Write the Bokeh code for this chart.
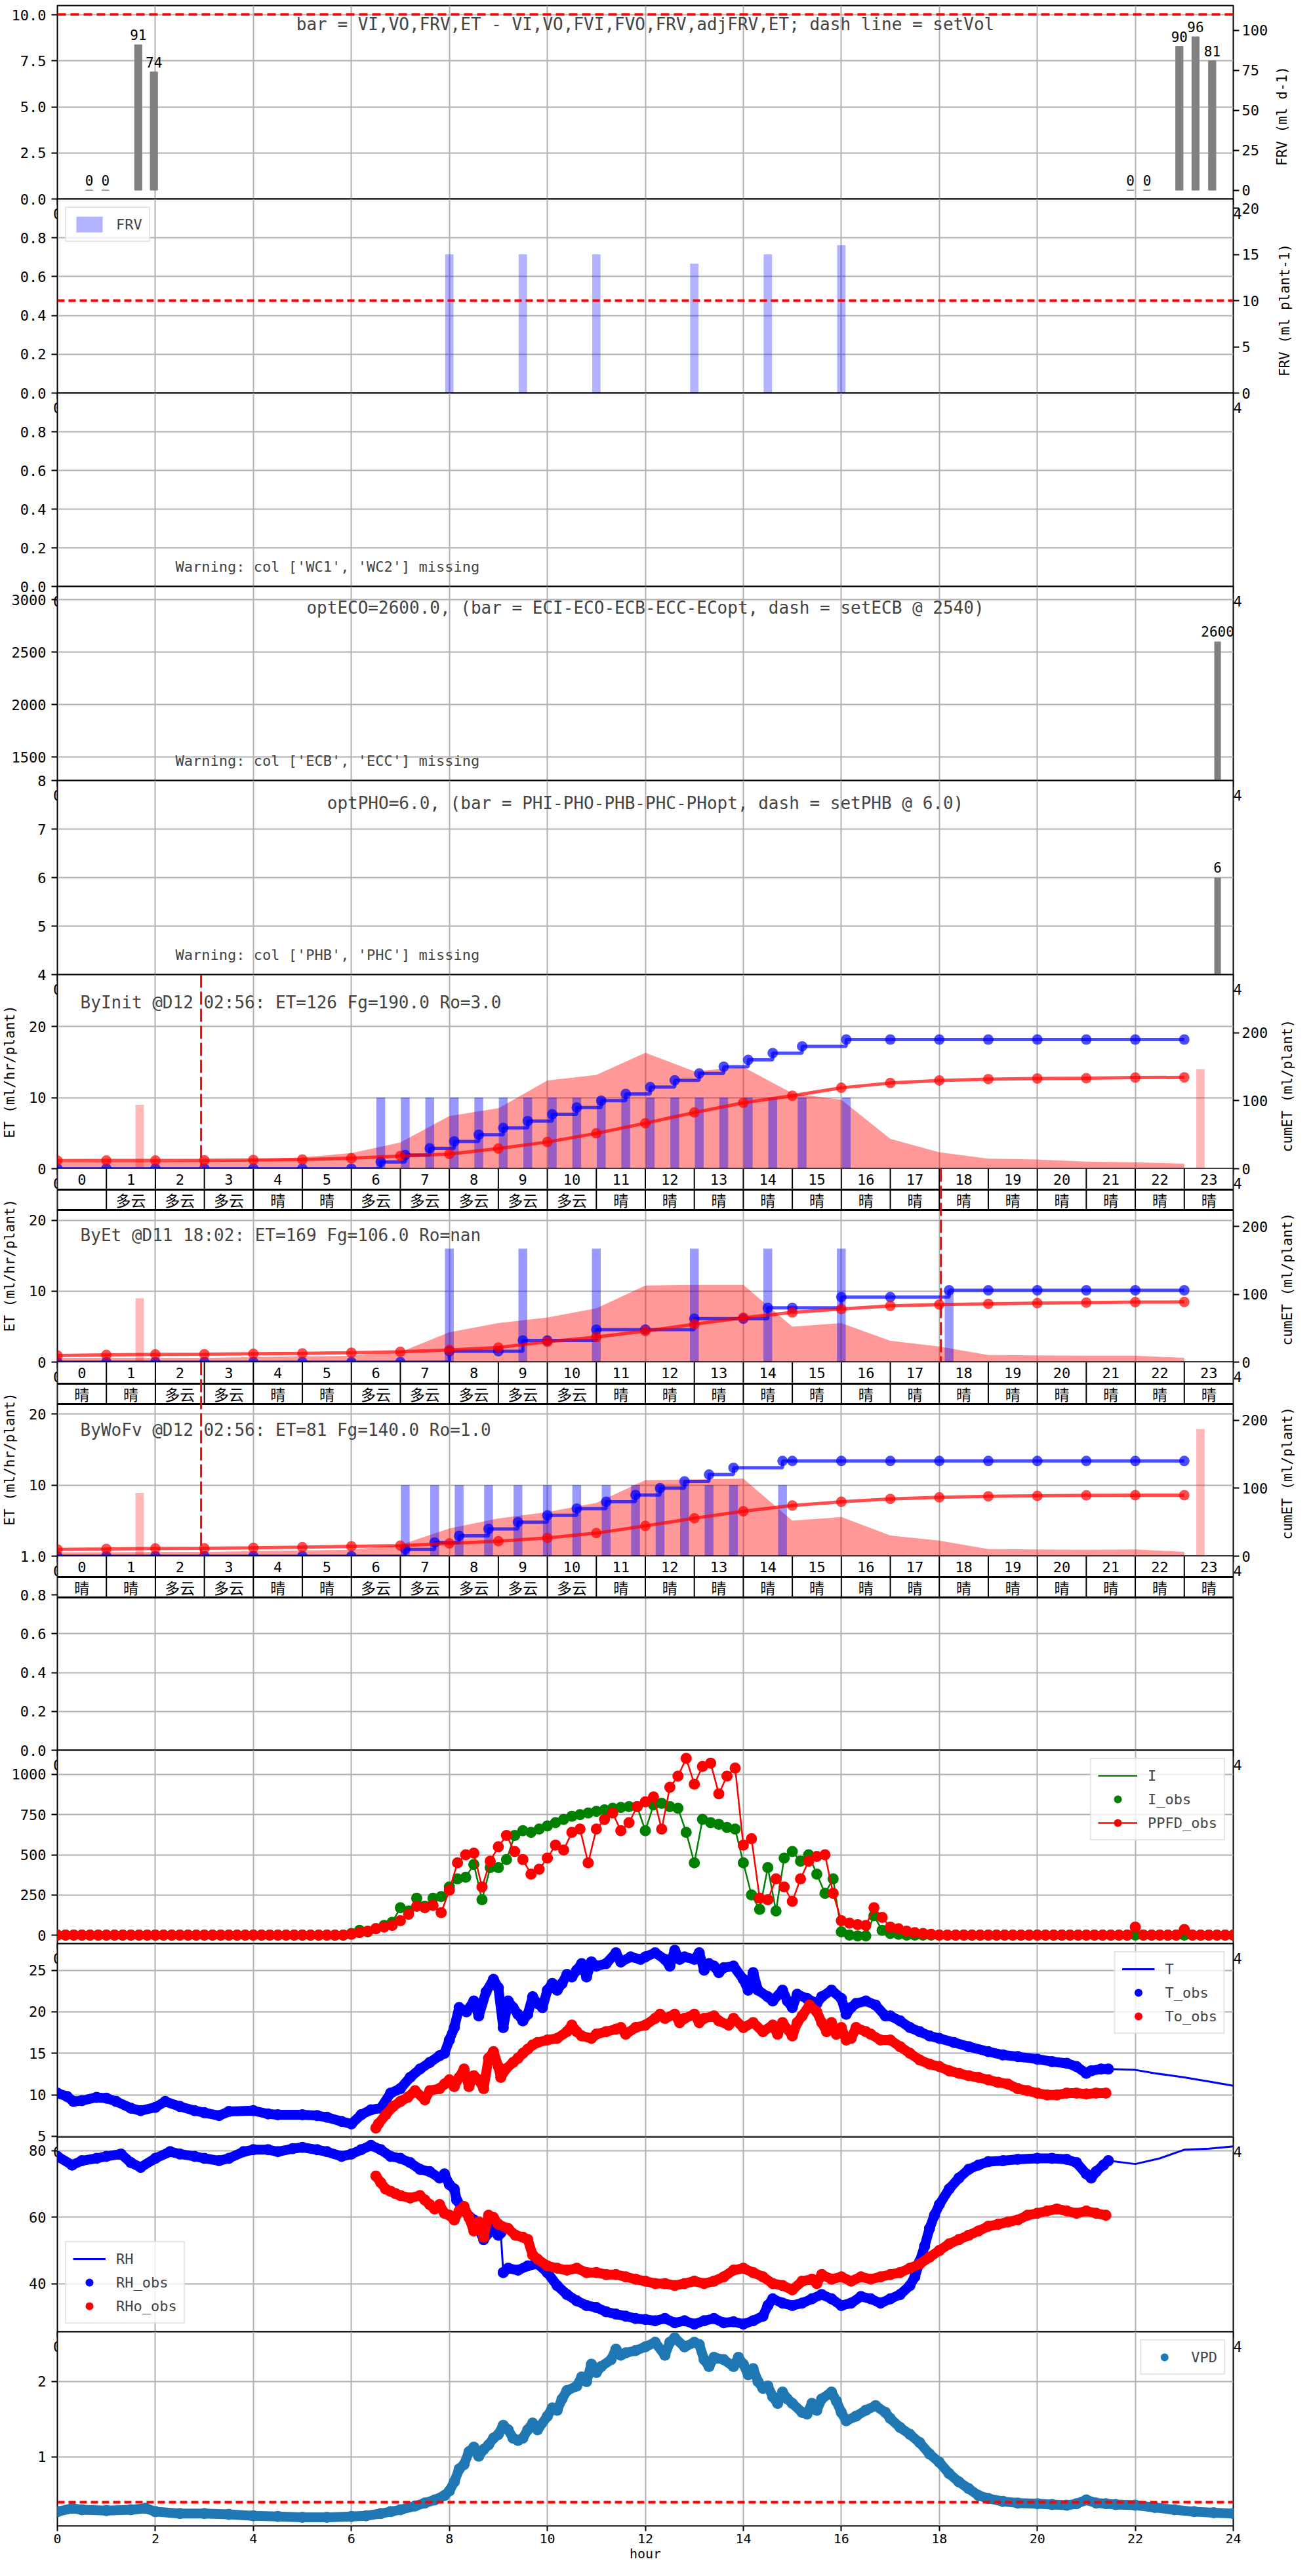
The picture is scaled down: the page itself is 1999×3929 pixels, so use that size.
import math
from bokeh.plotting import figure
from bokeh.models import (Range1d, LinearAxis, FixedTicker, PrintfTickFormatter, Label, Span,
                          Legend, LegendItem)
from bokeh.layouts import column
from bokeh.core.properties import value
from bokeh.embed import file_html
from bokeh.resources import INLINE

MONO = "DejaVu Sans Mono"
CJK = "Noto Sans CJK SC"

# ======================= DATA =======================
HOUR_TICKS = [0, 2, 4, 6, 8, 10, 12, 14, 16, 18, 20, 22, 24]
TABLE_HOURS = list(range(24))

FRVD_X = [0.65, 0.98, 1.65, 1.97, 21.9, 22.24, 22.9, 23.23, 23.57]
FRVD_V = [0, 0, 91, 74, 0, 0, 90, 96, 81]
SET_VOL = 110
TITLE1 = "bar = VI,VO,FRV,ET - VI,VO,FVI,FVO,FRV,adjFRV,ET; dash line = setVol"

FRV_X = [8.0, 9.5, 11.0, 13.0, 14.5, 16.0]
FRV_V = [15, 15, 15, 14, 15, 16]
SET_FRV = 10

WARN3 = "Warning: col ['WC1', 'WC2'] missing"
ECO_X = [23.68]
ECO_V = [2600]
TITLE4 = "optECO=2600.0, (bar = ECI-ECO-ECB-ECC-ECopt, dash = setECB @ 2540)"
WARN4 = "Warning: col ['ECB', 'ECC'] missing"
PHO_X = [23.68]
PHO_V = [6]
TITLE5 = "optPHO=6.0, (bar = PHI-PHO-PHB-PHC-PHopt, dash = setPHB @ 6.0)"
WARN5 = "Warning: col ['PHB', 'PHC'] missing"

ET_HOURS = list(range(24))
AREA_INIT = [0.9, 1.0, 1.0, 1.1, 1.3, 1.6, 2.2, 3.7, 7.4, 8.5, 12.4, 13.2, 16.3, 13.7, 14.3, 10.6, 9.7, 4.2, 2.3, 1.4, 1.3, 1.0, 0.9, 0.7]
AREA_ET = [0.6, 0.6, 0.6, 0.6, 0.7, 0.8, 0.9, 1.4, 4.2, 5.5, 6.3, 7.6, 10.8, 10.9, 10.9, 5.0, 5.5, 3.0, 2.2, 1.0, 0.95, 0.9, 0.9, 0.6]
AREA_WOFV = [0.55, 0.55, 0.6, 0.6, 0.7, 0.8, 0.9, 1.6, 3.9, 5.3, 6.2, 7.5, 10.7, 10.8, 10.9, 5.0, 5.5, 2.9, 2.2, 1.0, 0.95, 0.9, 0.95, 0.6]

CUMET_INIT = [11.9, 12.0, 12.0, 12.3, 12.9, 13.5, 15.4, 18.6, 21.5, 29.6, 39.2, 52.0, 66.9, 82.6, 97.0, 107.3, 119.0, 126.0, 129.8, 131.7, 132.6, 133.0, 134.0, 134.3]
CUMET_ET = [9.7, 10.6, 11.3, 11.6, 12.3, 12.9, 13.9, 15.2, 17.8, 21.6, 30.0, 37.0, 45.8, 55.8, 65.5, 73.3, 78.4, 83.0, 84.9, 86.0, 87.0, 87.8, 88.5, 88.7]
CUMET_WOFV = [10.0, 10.6, 11.3, 11.6, 12.3, 13.2, 14.5, 15.5, 18.7, 22.0, 26.8, 33.9, 44.5, 55.8, 66.1, 74.5, 80.0, 84.2, 86.5, 88.0, 88.7, 89.4, 89.7, 89.7]

CUMFG_INIT = [(0, 0), (1, 0), (2, 0), (3, 0), (4, 0), (5, 0), (6, 0), (6.6, 10), (7.1, 20), (7.6, 30), (8.1, 40),
              (8.6, 50), (9.1, 60), (9.6, 70), (10.1, 80), (10.6, 90), (11.1, 100), (11.6, 110), (12.1, 120),
              (12.6, 130), (13.1, 140), (13.6, 150), (14.1, 160), (14.6, 170), (15.2, 180), (16.1, 190),
              (17, 190), (18, 190), (19, 190), (20, 190), (21, 190), (22, 190), (23, 190)]
CUMFG_ET = [(0, 0), (1, 0), (2, 0), (3, 0), (4, 0), (5, 0), (6, 0), (7, 0), (8, 16), (9, 16), (9.5, 32), (10, 32),
            (11, 48), (12, 48), (13, 64), (14, 64), (14.5, 80), (15, 80), (16, 96), (17, 96), (18.2, 106),
            (19, 106), (20, 106), (21, 106), (22, 106), (23, 106)]
CUMFG_WOFV = [(0, 0), (1, 0), (2, 0), (3, 0), (4, 0), (5, 0), (6, 0), (7.1, 10), (7.7, 20), (8.2, 30), (8.8, 40),
              (9.4, 50), (10.0, 60), (10.6, 70), (11.2, 80), (11.8, 90), (12.3, 100), (12.8, 110), (13.3, 120),
              (13.8, 130), (14.8, 140), (15, 140), (16, 140), (17, 140), (18, 140), (19, 140), (20, 140),
              (21, 140), (22, 140), (23, 140)]

IRR_INIT_X = [6.6, 7.1, 7.6, 8.1, 8.6, 9.1, 9.6, 10.1, 10.6, 11.1, 11.6, 12.1, 12.6, 13.1, 13.6, 14.1, 14.6, 15.2, 16.1]
IRR_INIT_V = [10, 10, 10, 10, 10, 10, 10, 10, 10, 10, 10, 10, 10, 10, 10, 10, 10, 10, 10]
IRR_ET_X = [8.0, 9.5, 11.0, 13.0, 14.5, 16.0, 18.2]
IRR_ET_V = [16, 16, 16, 16, 16, 16, 10]
IRR_WOFV_X = [7.1, 7.7, 8.2, 8.8, 9.4, 10.0, 10.6, 11.2, 11.8, 12.3, 12.8, 13.3, 13.8, 14.8]
IRR_WOFV_V = [10, 10, 10, 10, 10, 10, 10, 10, 10, 10, 10, 10, 10, 10]

PINK_INIT_X = [1.68, 23.33]
PINK_INIT_V = [9.0, 14.0]
PINK_ET_X = [1.68]
PINK_ET_V = [9.0]
PINK_WOFV_X = [1.68, 23.33]
PINK_WOFV_V = [8.9, 17.9]

VLINE_INIT, VLINE_ET, VLINE_WOFV = 2.933, 18.033, 2.933
LABEL_INIT = "ByInit @D12 02:56: ET=126 Fg=190.0 Ro=3.0"
LABEL_ET = "ByEt @D11 18:02: ET=169 Fg=106.0 Ro=nan"
LABEL_WOFV = "ByWoFv @D12 02:56: ET=81 Fg=140.0 Ro=1.0"

WEATHER_INIT = ["", "多云", "多云", "多云", "晴", "晴", "多云", "多云", "多云", "多云", "多云", "晴",
                "晴", "晴", "晴", "晴", "晴", "晴", "晴", "晴", "晴", "晴", "晴", "晴"]
WEATHER_ET = ["晴", "晴", "多云", "多云", "晴", "晴", "多云", "多云", "多云", "多云", "多云", "晴",
              "晴", "晴", "晴", "晴", "晴", "晴", "晴", "晴", "晴", "晴", "晴", "晴"]
WEATHER_WOFV = ["晴", "晴", "多云", "多云", "晴", "晴", "多云", "多云", "多云", "多云", "多云", "晴",
                "晴", "晴", "晴", "晴", "晴", "晴", "晴", "晴", "晴", "晴", "晴", "晴"]

T10 = [i / 6 for i in range(145)]
PPFD_OBS = [0, 0, 0, 0, 0, 0,  0, 0, 0, 0, 0, 0,  0, 0, 0, 0, 0, 0,  0, 0, 0, 0, 0, 0,
            0, 0, 0, 0, 0, 0,  0, 0, 0, 0, 0, 0,
            5, 15, 25, 40, 50, 60,
            90, 130, 180, 170, 185, 140,
            280, 450, 500, 510, 300, 460,
            550, 620, 520, 470, 380, 410,
            480, 560, 530, 640, 660, 450,
            660, 720, 760, 650, 700, 800,
            830, 860, 660, 920, 990, 1100,
            940, 1050, 1070, 880, 990, 1040,
            560, 600, 230, 220, 350, 300,
            210, 350, 460, 490, 500, 260,
            90, 75, 65, 60, 170, 110,
            50, 40, 25, 15, 10, 5,
            0, 0, 0, 0, 0, 0,  0, 0, 0, 0, 0, 0,  0, 0, 0, 0, 0, 0,  0, 0, 0, 0, 0, 0,
            50, 0, 0, 0, 0, 0,  35, 0, 0, 0, 0, 0,
            0]
I_OBS = [0, 0, 0, 0, 0, 0,  0, 0, 0, 0, 0, 0,  0, 0, 0, 0, 0, 0,  0, 0, 0, 0, 0, 0,
         0, 0, 0, 0, 0, 0,  0, 0, 0, 0, 0, 0,
         10, 30, 20, 40, 60, 80,
         170, 150, 230, 180, 230, 240,
         300, 350, 360, 440, 220, 420,
         420, 470, 620, 650, 640, 660,
         680, 700, 720, 740, 750, 760,
         770, 780, 790, 795, 800, 800,
         650, 810, 820, 800, 790, 640,
         450, 720, 700, 690, 670, 660,
         450, 250, 160, 420, 150, 480,
         520, 460, 500, 380, 260, 350,
         20, 0, -5, -5, 120, 30,
         10, 5, 0, 0, 0, 0,
         0, 0, 0, 0, 0, 0,  0, 0, 0, 0, 0, 0,  0, 0, 0, 0, 0, 0,  0, 0, 0, 0, 0, 0,
         0, 0, 0, 0, 0, 0,  0, 0, 0, 0, 0, 0,
         0]

T_OBS = [(0, 10.2), (0.2, 9.8), (0.33, 9.2), (0.5, 9.3), (0.8, 9.7), (1.0, 9.6), (1.2, 9.2), (1.5, 8.4), (1.7, 8.1),
         (2.0, 8.5), (2.2, 9.2), (2.5, 8.6), (2.8, 8.1), (3.0, 7.85), (3.3, 7.5), (3.5, 8.0), (4.0, 8.1), (4.3, 7.7),
         (4.5, 7.6), (5.0, 7.6), (5.3, 7.5), (5.5, 7.3), (5.8, 6.8), (6.0, 6.5), (6.2, 7.6), (6.4, 8.2), (6.6, 8.4),
         (6.8, 10.2), (7.0, 10.75), (7.2, 12.1), (7.4, 13.1), (7.6, 13.9), (7.8, 14.7), (7.9, 15.0), (8.0, 16.6),
         (8.1, 18.1), (8.2, 20.5), (8.35, 20.0), (8.5, 21.3), (8.6, 19.5), (8.75, 22.4), (8.9, 23.9), (9.0, 22.9),
         (9.1, 18.1), (9.2, 21.3), (9.3, 20.5), (9.4, 19.7), (9.5, 18.9), (9.6, 19.7), (9.7, 21.8), (9.8, 21.0),
         (9.9, 20.5), (10.0, 22.6), (10.1, 23.4), (10.2, 22.6), (10.3, 23.4), (10.4, 24.5), (10.5, 24.2),
         (10.6, 25.0), (10.7, 25.8), (10.8, 24.2), (10.9, 26.0), (11.0, 25.5), (11.2, 25.8), (11.4, 27.1),
         (11.5, 26.0), (11.7, 26.6), (11.9, 26.3), (12.0, 26.6), (12.2, 27.1), (12.4, 26.3), (12.5, 25.5),
         (12.6, 27.4), (12.7, 26.3), (12.8, 26.6), (13.0, 26.3), (13.1, 27.1), (13.2, 25.0), (13.3, 25.8),
         (13.4, 25.5), (13.5, 24.7), (13.6, 25.3), (13.8, 25.5), (14.0, 23.9), (14.1, 22.6), (14.2, 24.7),
         (14.3, 22.6), (14.5, 21.8), (14.6, 21.3), (14.8, 22.6), (14.9, 21.3), (15.0, 20.5), (15.1, 22.1),
         (15.3, 21.6), (15.5, 21.0), (15.6, 21.8), (15.8, 22.6), (16.0, 21.6), (16.1, 19.7), (16.2, 20.5),
         (16.3, 21.0), (16.5, 21.3), (16.7, 20.8), (16.9, 19.5), (17.0, 19.5), (17.2, 18.9), (17.4, 18.1),
         (17.6, 17.6), (17.8, 17.1), (18.0, 16.8), (18.3, 16.3), (18.6, 15.8), (19.0, 15.2), (19.3, 14.8),
         (19.6, 14.6), (20.0, 14.3), (20.3, 14.0), (20.6, 13.8), (20.8, 13.4), (21.0, 12.6), (21.1, 12.9),
         (21.3, 13.1), (21.45, 13.1)]
T_TAIL = [(22.0, 13.0), (22.4, 12.6), (23.0, 12.1), (23.5, 11.6), (24.0, 11.1)]
TO_OBS = [(6.5, 6.0), (6.55, 6.5), (6.7, 7.6), (6.85, 8.6), (7.0, 9.2), (7.15, 9.7), (7.3, 10.5), (7.5, 9.4),
          (7.6, 10.5), (7.8, 10.75), (7.9, 11.3), (8.0, 11.8), (8.1, 11.0), (8.2, 12.1), (8.3, 13.1), (8.4, 11.0),
          (8.5, 12.3), (8.6, 11.8), (8.7, 10.75), (8.8, 14.4), (8.9, 15.2), (9.0, 13.4), (9.05, 12.1), (9.15, 13.1),
          (9.3, 13.9), (9.4, 14.4), (9.5, 15.0), (9.6, 15.5), (9.7, 16.0), (9.8, 16.3), (10.0, 16.6), (10.2, 16.8),
          (10.4, 17.6), (10.5, 18.4), (10.6, 17.6), (10.7, 17.1), (10.9, 16.8), (11.0, 17.3), (11.2, 17.6),
          (11.4, 17.9), (11.5, 18.1), (11.6, 17.3), (11.8, 18.1), (12.0, 18.4), (12.2, 19.2), (12.3, 19.7),
          (12.4, 19.2), (12.6, 19.7), (12.7, 18.7), (12.8, 19.2), (13.0, 19.7), (13.1, 18.7), (13.2, 19.2),
          (13.4, 19.5), (13.5, 18.9), (13.7, 18.4), (13.8, 19.2), (14.0, 18.1), (14.2, 18.7), (14.4, 17.6),
          (14.6, 18.4), (14.7, 17.3), (14.8, 18.7), (15.0, 17.1), (15.1, 18.7), (15.2, 19.5), (15.35, 20.8),
          (15.5, 20.0), (15.6, 18.7), (15.7, 17.6), (15.8, 18.7), (15.9, 17.3), (16.0, 18.1), (16.1, 16.6),
          (16.2, 16.8), (16.3, 18.1), (16.5, 17.6), (16.6, 17.3), (16.8, 16.6), (17.0, 16.6), (17.2, 15.8),
          (17.4, 15.0), (17.6, 14.2), (17.8, 13.7), (18.0, 13.4), (18.2, 12.9), (18.4, 12.6), (18.6, 12.3),
          (18.8, 12.1), (19.0, 11.8), (19.2, 11.5), (19.4, 11.3), (19.6, 10.75), (19.8, 10.5), (20.0, 10.2),
          (20.2, 10.0), (20.4, 10.0), (20.6, 10.2), (20.8, 10.2), (21.0, 10.1), (21.2, 10.2), (21.4, 10.2)]

RH_OBS = [(0, 78.3), (0.3, 75.7), (0.5, 77.0), (0.8, 77.7), (1.0, 78.3), (1.3, 79.0), (1.5, 76.4), (1.7, 75.0),
          (2.0, 77.7), (2.3, 79.7), (2.5, 79.0), (2.8, 78.3), (3.0, 77.7), (3.3, 77.0), (3.5, 77.7), (3.8, 79.7),
          (4.0, 80.3), (4.3, 80.3), (4.5, 79.7), (4.8, 80.6), (5.0, 81.0), (5.3, 80.3), (5.5, 79.7), (5.8, 78.3),
          (6.0, 79.0), (6.2, 80.3), (6.4, 81.6), (6.6, 80.3), (6.8, 78.3), (7.0, 77.7), (7.2, 76.4), (7.4, 74.4),
          (7.6, 73.7), (7.8, 71.8), (7.9, 73.0), (8.0, 69.8), (8.1, 68.5), (8.15, 65.2), (8.3, 61.9), (8.5, 59.2),
          (8.6, 56.6), (8.7, 53.3), (8.8, 55.3), (8.9, 58.6), (9.0, 54.6), (9.05, 55.3), (9.1, 43.4), (9.2, 44.7),
          (9.4, 44.1), (9.6, 45.4), (9.8, 46.0), (10.0, 43.4), (10.2, 39.5), (10.4, 36.8), (10.6, 34.9),
          (10.8, 33.5), (11.0, 32.9), (11.2, 31.6), (11.4, 30.9), (11.6, 30.3), (11.8, 29.6), (12.0, 29.3),
          (12.2, 28.9), (12.4, 29.6), (12.6, 28.3), (12.8, 28.9), (13.0, 27.9), (13.2, 28.9), (13.4, 29.6),
          (13.6, 28.3), (13.8, 28.6), (14.0, 27.9), (14.2, 28.9), (14.4, 30.3), (14.5, 33.5), (14.6, 35.5),
          (14.8, 34.2), (15.0, 33.5), (15.2, 34.2), (15.4, 35.5), (15.6, 36.8), (15.8, 35.5), (16.0, 33.5),
          (16.2, 34.2), (16.4, 36.2), (16.6, 35.5), (16.8, 34.2), (17.0, 35.5), (17.2, 36.8), (17.4, 39.5),
          (17.5, 42.1), (17.6, 46.7), (17.7, 51.3), (17.8, 56.6), (17.9, 60.6), (18.0, 63.8), (18.2, 68.5),
          (18.4, 71.8), (18.6, 74.4), (18.8, 75.7), (19.0, 76.7), (19.3, 77.0), (19.6, 77.4), (20.0, 77.7),
          (20.3, 77.7), (20.6, 77.4), (20.8, 76.4), (21.0, 73.0), (21.1, 71.8), (21.2, 73.7), (21.35, 75.7),
          (21.45, 77.0)]
RH_TAIL = [(22.0, 76.0), (22.5, 77.7), (23.0, 80.3), (23.5, 80.6), (24.0, 81.3)]
RHO_OBS = [(6.5, 72.4), (6.6, 70.4), (6.7, 68.5), (6.8, 67.8), (6.9, 67.1), (7.0, 66.5), (7.2, 65.8), (7.4, 66.5),
           (7.5, 65.2), (7.6, 63.8), (7.7, 62.5), (7.8, 63.8), (7.9, 61.2), (8.0, 60.6), (8.1, 59.2), (8.2, 61.9),
           (8.3, 63.2), (8.4, 59.9), (8.5, 55.9), (8.6, 58.6), (8.7, 54.0), (8.8, 60.6), (8.9, 59.9), (9.0, 57.9),
           (9.2, 56.6), (9.35, 54.6), (9.5, 54.0), (9.6, 53.3), (9.7, 48.7), (9.8, 47.4), (10.0, 45.4),
           (10.2, 44.7), (10.4, 44.1), (10.6, 44.7), (10.8, 43.4), (11.0, 43.4), (11.2, 42.8), (11.4, 42.8),
           (11.6, 42.1), (11.8, 41.4), (12.0, 40.8), (12.2, 40.1), (12.4, 40.1), (12.6, 39.5), (12.8, 40.1),
           (13.0, 40.8), (13.2, 40.1), (13.4, 40.8), (13.6, 42.1), (13.8, 44.1), (14.0, 44.7), (14.2, 43.4),
           (14.4, 42.1), (14.6, 40.1), (14.8, 39.5), (15.0, 38.2), (15.2, 40.8), (15.4, 41.4), (15.5, 40.1),
           (15.6, 42.8), (15.8, 41.4), (16.0, 42.1), (16.2, 40.8), (16.4, 42.1), (16.6, 41.4), (16.8, 42.1),
           (17.0, 42.8), (17.2, 43.4), (17.4, 44.7), (17.6, 46.0), (17.8, 48.0), (18.0, 50.0), (18.2, 52.0),
           (18.4, 53.3), (18.6, 54.6), (18.8, 55.9), (19.0, 57.3), (19.2, 57.9), (19.4, 58.6), (19.6, 59.2),
           (19.8, 60.6), (20.0, 61.2), (20.2, 61.9), (20.4, 62.5), (20.6, 61.9), (20.8, 61.2), (21.0, 61.9),
           (21.2, 61.2), (21.4, 60.6)]

VPD = [(0, 0.275), (0.3, 0.32), (0.5, 0.30), (1.0, 0.29), (1.5, 0.30), (1.8, 0.32), (2.0, 0.275), (2.5, 0.25),
       (3.0, 0.25), (3.5, 0.24), (4.0, 0.22), (4.5, 0.21), (5.0, 0.20), (5.5, 0.20), (6.0, 0.21), (6.3, 0.22),
       (6.6, 0.25), (6.8, 0.275), (7.0, 0.30), (7.3, 0.35), (7.5, 0.39), (7.7, 0.43), (7.9, 0.49), (8.0, 0.55),
       (8.1, 0.67), (8.2, 0.84), (8.3, 0.90), (8.4, 1.07), (8.5, 1.13), (8.6, 1.01), (8.7, 1.10), (8.8, 1.16),
       (8.9, 1.25), (9.0, 1.30), (9.1, 1.42), (9.2, 1.36), (9.3, 1.25), (9.4, 1.22), (9.5, 1.25), (9.6, 1.36),
       (9.7, 1.45), (9.8, 1.36), (10.0, 1.54), (10.1, 1.65), (10.2, 1.62), (10.3, 1.77), (10.4, 1.88),
       (10.6, 1.94), (10.7, 2.06), (10.8, 2.00), (10.9, 2.23), (11.0, 2.12), (11.1, 2.20), (11.3, 2.29),
       (11.4, 2.43), (11.5, 2.35), (11.6, 2.38), (11.8, 2.41), (12.0, 2.46), (12.2, 2.52), (12.4, 2.35),
       (12.5, 2.52), (12.6, 2.58), (12.8, 2.46), (13.0, 2.52), (13.1, 2.49), (13.2, 2.29), (13.3, 2.20),
       (13.4, 2.32), (13.6, 2.29), (13.8, 2.20), (13.9, 2.32), (14.0, 2.23), (14.1, 2.09), (14.2, 2.17),
       (14.3, 2.00), (14.4, 1.91), (14.5, 1.94), (14.6, 1.80), (14.7, 1.71), (14.8, 1.86), (14.9, 1.77),
       (15.0, 1.71), (15.2, 1.59), (15.3, 1.57), (15.4, 1.71), (15.5, 1.62), (15.6, 1.77), (15.8, 1.86),
       (15.9, 1.74), (16.0, 1.59), (16.1, 1.48), (16.3, 1.54), (16.5, 1.62), (16.7, 1.68), (16.9, 1.59),
       (17.0, 1.51), (17.2, 1.39), (17.4, 1.30), (17.6, 1.19), (17.8, 1.04), (18.0, 0.93), (18.2, 0.78),
       (18.4, 0.67), (18.6, 0.58), (18.8, 0.49), (19.0, 0.45), (19.3, 0.41), (19.6, 0.39), (20.0, 0.38),
       (20.3, 0.37), (20.6, 0.36), (20.8, 0.38), (21.0, 0.43), (21.2, 0.39), (21.4, 0.38), (21.6, 0.37),
       (22.0, 0.36), (22.4, 0.33), (22.8, 0.30), (23.2, 0.275), (23.6, 0.26), (24.0, 0.25)]
VPD_SET = 0.4

# ======================= LAYOUT / STYLE =======================
FW = 1793
LB, RB = 85, 105
BT, BB = 12, 45
FH = [295, 296, 295, 296, 296, 296, 295, 296, 296, 295, 295, 297, 296]
ET_YR = (0, 27.3)
CUM_YR = (0, 285.5)
GRID = "#b0b0b0"
LABEL_PX = 21
CHAR_W = LABEL_PX * 0.602


def style_axis(ax, size="22px"):
    ax.major_label_text_font = MONO
    ax.major_label_text_font_size = size
    ax.major_label_text_color = "black"
    ax.axis_label_text_font = MONO
    ax.axis_label_text_font_size = "%dpx" % LABEL_PX
    ax.axis_label_text_font_style = "normal"
    ax.axis_label_text_color = "black"
    ax.axis_line_color = None
    ax.major_tick_out = 9
    ax.major_tick_in = 0
    ax.major_tick_line_width = 2
    ax.minor_tick_out = 0
    ax.minor_tick_in = 0
    ax.major_label_standoff = 8


def y_from_top(yr, fh, px):
    return yr[1] - px * (yr[1] - yr[0]) / fh


def y_from_bottom(yr, fh, px):
    return yr[0] + px * (yr[1] - yr[0]) / fh


def base(i, yr, yticks, fmt=None, grid_ticks=None):
    first, last = i == 0, i == len(FH) - 1
    p = figure(frame_width=FW, frame_height=FH[i], x_range=Range1d(0, 24), y_range=Range1d(*yr),
               output_backend="svg", toolbar_location=None,
               min_border_left=LB, min_border_right=RB,
               min_border_top=8 if first else BT, min_border_bottom=61 if last else BB,
               border_fill_color=None, background_fill_color="white",
               outline_line_color="black", outline_line_width=2)
    p.margin = (0, 0, 0, 0) if first else (-(BB + BT), 0, 0, 0)
    p.xaxis.ticker = FixedTicker(ticks=HOUR_TICKS)
    p.yaxis.ticker = FixedTicker(ticks=yticks)
    if fmt:
        p.yaxis.formatter = PrintfTickFormatter(format=fmt)
    for ax in list(p.xaxis) + list(p.yaxis):
        style_axis(ax)
    for ax in p.xaxis:
        ax.major_label_standoff = 5
    p.xgrid.ticker = FixedTicker(ticks=HOUR_TICKS)
    p.ygrid.ticker = FixedTicker(ticks=grid_ticks if grid_ticks else yticks)
    p.grid.grid_line_color = GRID
    p.grid.grid_line_width = 2
    return p


def add_right(p, i, yr, ticks, label, standoff):
    """Right-hand axis whose title reads bottom-to-top (as in the reference)."""
    p.extra_y_ranges = {"r": Range1d(*yr)}
    ax = LinearAxis(y_range_name="r", ticker=FixedTicker(ticks=ticks))
    style_axis(ax)
    ax.major_label_standoff = 4
    # the rotated title starts at the bottom of the axis: pad it so it ends up centred
    pad = max(0, int(round((FH[i] / 2 - len(label) * CHAR_W / 2 - 20) / CHAR_W)))
    ax.axis_label = "\u00a0" * pad + label
    ax.axis_label_standoff = standoff
    try:
        ax.axis_label_orientation = math.pi / 2
        ax.axis_label_align = "start"
    except Exception:
        ax.axis_label = label
    p.add_layout(ax, "right")
    return ax


def mk_legend(items, loc, gw=50):
    return Legend(items=[LegendItem(label=l, renderers=r) for l, r in items], location=loc,
                  label_text_font=MONO, label_text_font_size="22px",
                  border_line_color="#cccccc", border_line_width=2,
                  background_fill_alpha=0.8, glyph_width=gw, glyph_height=30, label_standoff=16,
                  padding=10, spacing=6, margin=12)


def title(p, yr, fh, text, px):
    p.add_layout(Label(x=12, y=y_from_top(yr, fh, px), text=text, text_align="center",
                       text_baseline="top", text_font=MONO, text_font_size="26px"))


def warning(p, yr, fh, text):
    p.add_layout(Label(x=2.41, y=y_from_bottom(yr, fh, 30), text=text, text_align="left",
                       text_baseline="alphabetic", text_font=MONO, text_font_size="22px"))


def add_table(p, yr, fh, weather, r1=32, r2=31):
    ya = yr[1]
    yb = y_from_top(yr, fh, r1)
    yc = y_from_top(yr, fh, r1 + r2)
    p.quad(left=[0], right=[24], bottom=[yc], top=[ya], fill_color="white", line_color=None)
    p.multi_line(xs=[[h, h] for h in range(25)], ys=[[yc, ya] for _ in range(25)],
                 line_color="black", line_width=2)
    p.multi_line(xs=[[0, 24], [0, 24]], ys=[[yb, yb], [yc, yc]], line_color="black", line_width=3)
    cx = [h + 0.5 for h in TABLE_HOURS]
    p.text(x=cx, y=[(ya + yb) / 2] * 24, text=[str(h) for h in TABLE_HOURS], text_align="center",
           text_baseline="middle", text_font=value(MONO), text_font_size="22px", text_color="black")
    p.text(x=cx, y=[(yb + yc) / 2] * 24, text=weather, text_align="center",
           text_baseline="middle", text_font=value(CJK), text_font_size="23px", text_color="black")


def et_panel(i, area, cumet, cumfg, irr_x, irr_v, pk_x, pk_v, vline, label, label_px, yticks):
    p = base(i, ET_YR, yticks, grid_ticks=[0, 10, 20])
    p.left[0].axis_label = "ET (ml/hr/plant)"
    p.left[0].axis_label_standoff = 14
    add_right(p, i, CUM_YR, [0, 100, 200], "cumET (ml/plant)", 27)
    p.varea(x=ET_HOURS, y1=[0] * len(area), y2=area, fill_color="red", fill_alpha=0.4)
    p.vbar(x=pk_x, top=pk_v, bottom=0, width=0.17, fill_color="red", fill_alpha=0.28, line_color=None)
    p.vbar(x=irr_x, top=irr_v, bottom=0, width=0.18, fill_color="blue", fill_alpha=0.4, line_color=None)
    cx = [a for a, _ in cumfg]
    cy = [b for _, b in cumfg]
    p.step(x=cx, y=cy, mode="after", y_range_name="r", line_color="blue", line_alpha=0.7, line_width=5)
    p.scatter(x=cx, y=cy, y_range_name="r", size=16, fill_color="blue", fill_alpha=0.7, line_color=None)
    p.line(x=ET_HOURS, y=cumet, y_range_name="r", line_color="red", line_alpha=0.7, line_width=5)
    p.scatter(x=ET_HOURS, y=cumet, y_range_name="r", size=16, fill_color="red", fill_alpha=0.7, line_color=None)
    p.add_layout(Span(location=vline, dimension="height", line_color="red", line_width=3, line_dash="20 6"))
    p.add_layout(Label(x=0.47, y=y_from_top(ET_YR, FH[i], label_px), text=label, text_align="left",
                       text_baseline="top", text_font=MONO, text_font_size="26px"))
    return p


figs = []

yr = (0, 10.5)
p1 = base(0, yr, [0, 2.5, 5, 7.5, 10], fmt="%.1f")
add_right(p1, 0, (-5.5, 115.5), [0, 25, 50, 75, 100], "FRV (ml d-1)", 19)
p1.vbar(x=FRVD_X, top=FRVD_V, bottom=0, width=0.15, y_range_name="r", fill_color="gray",
        line_color="gray", line_width=1)
p1.text(x=FRVD_X, y=FRVD_V, text=[str(v) for v in FRVD_V], y_range_name="r", text_align="center",
        text_baseline="bottom", y_offset=-7, text_font=value(MONO), text_font_size="21px")
p1.add_layout(Span(location=SET_VOL, dimension="width", y_range_name="r", line_color="red",
                   line_width=3.5, line_dash="13 7"))
title(p1, yr, FH[0], TITLE1, 13)
figs.append(p1)

yr = (0, 1)
p2 = base(1, yr, [0, 0.2, 0.4, 0.6, 0.8], fmt="%.1f", grid_ticks=[0, 0.2, 0.4, 0.6, 0.8, 1.0])
add_right(p2, 1, (0, 21), [0, 5, 10, 15, 20], "FRV (ml plant-1)", 36)
b2 = p2.vbar(x=FRV_X, top=FRV_V, bottom=0, width=0.17, y_range_name="r", fill_color="blue",
             fill_alpha=0.3, line_color=None)
p2.add_layout(Span(location=SET_FRV, dimension="width", y_range_name="r", line_color="red",
                   line_width=4, line_dash="11 6"))
p2.add_layout(mk_legend([("FRV", [b2])], "top_left"))
figs.append(p2)

p3 = base(2, yr, [0, 0.2, 0.4, 0.6, 0.8], fmt="%.1f", grid_ticks=[0, 0.2, 0.4, 0.6, 0.8, 1.0])
warning(p3, yr, FH[2], WARN3)
figs.append(p3)

yr = (1275, 3125)
p4 = base(3, yr, [1500, 2000, 2500, 3000])
p4.vbar(x=ECO_X, top=ECO_V, bottom=0, width=0.135, fill_color="gray", line_color=None)
p4.text(x=ECO_X, y=ECO_V, text=[str(v) for v in ECO_V], text_align="center", text_baseline="bottom",
        y_offset=-8, text_font=value(MONO), text_font_size="21px")
title(p4, yr, FH[3], TITLE4, 17)
warning(p4, yr, FH[3], WARN4)
figs.append(p4)

yr = (4, 8)
p5 = base(4, yr, [4, 5, 6, 7, 8])
p5.vbar(x=PHO_X, top=PHO_V, bottom=0, width=0.135, fill_color="gray", line_color=None)
p5.text(x=PHO_X, y=PHO_V, text=[str(v) for v in PHO_V], text_align="center", text_baseline="bottom",
        y_offset=-8, text_font=value(MONO), text_font_size="21px")
title(p5, yr, FH[4], TITLE5, 19)
warning(p5, yr, FH[4], WARN5)
figs.append(p5)

p6 = et_panel(5, AREA_INIT, CUMET_INIT, CUMFG_INIT, IRR_INIT_X, IRR_INIT_V, PINK_INIT_X, PINK_INIT_V,
              VLINE_INIT, LABEL_INIT, 27, [0, 10, 20])
figs.append(p6)
p7 = et_panel(6, AREA_ET, CUMET_ET, CUMFG_ET, IRR_ET_X, IRR_ET_V, PINK_ET_X, PINK_ET_V,
              VLINE_ET, LABEL_ET, 86, [0, 10, 20])
add_table(p7, ET_YR, FH[6], WEATHER_INIT)
figs.append(p7)
p8 = et_panel(7, AREA_WOFV, CUMET_WOFV, CUMFG_WOFV, IRR_WOFV_X, IRR_WOFV_V, PINK_WOFV_X, PINK_WOFV_V,
              VLINE_WOFV, LABEL_WOFV, 88, [10, 20])
add_table(p8, ET_YR, FH[7], WEATHER_ET, 33, 31)
figs.append(p8)

yr = (0, 1)
p9 = base(8, yr, [0, 0.2, 0.4, 0.6, 0.8, 1.0], fmt="%.1f")
add_table(p9, yr, FH[8], WEATHER_WOFV)
figs.append(p9)

p10 = base(9, (-53, 1151), [0, 250, 500, 750, 1000])
l_i = p10.line(x=T10, y=I_OBS, line_color="green", line_width=2.5)
s_i = p10.scatter(x=T10, y=I_OBS, size=17, fill_color="green", line_color=None)
l_p = p10.line(x=T10, y=PPFD_OBS, line_color="red", line_width=2.5)
s_p = p10.scatter(x=T10, y=PPFD_OBS, size=17, fill_color="red", line_color=None)
p10.add_layout(mk_legend([("I", [l_i]), ("I_obs", [s_i]), ("PPFD_obs", [l_p, s_p])], "top_right", 60))
figs.append(p10)


def band(p, pts, color, breaks=()):
    xs, ys = [a for a, _ in pts], [b for _, b in pts]
    segs, cur = [], [[], []]
    for k, (a, b) in enumerate(pts):
        if k in breaks:
            segs.append(cur)
            cur = [[], []]
        cur[0].append(a)
        cur[1].append(b)
    segs.append(cur)
    p.multi_line(xs=[s[0] for s in segs], ys=[s[1] for s in segs], line_color=color, line_width=15,
                 line_join="round", line_cap="round")
    return p.scatter(x=xs, y=ys, size=17, fill_color=color, line_color=None)


p11 = base(10, (4.92, 28.2), [5, 10, 15, 20, 25])
tl = T_OBS + T_TAIL
l_t = p11.line(x=[a for a, _ in tl], y=[b for _, b in tl], line_color="blue", line_width=3)
s_t = band(p11, T_OBS, "blue")
s_to = band(p11, TO_OBS, "red")
p11.add_layout(mk_legend([("T", [l_t]), ("T_obs", [s_t]), ("To_obs", [s_to])], "top_right"))
figs.append(p11)

p12 = base(11, (25.6, 84.1), [40, 60, 80])
rl = RH_OBS + RH_TAIL
l_rh = p12.line(x=[a for a, _ in rl], y=[b for _, b in rl], line_color="blue", line_width=3)
gap = [k for k in range(1, len(RH_OBS)) if abs(RH_OBS[k][1] - RH_OBS[k - 1][1]) > 8]
s_rh = band(p12, RH_OBS, "blue", breaks=gap)
s_rho = band(p12, RHO_OBS, "red")
p12.add_layout(mk_legend([("RH", [l_rh]), ("RH_obs", [s_rh]), ("RHo_obs", [s_rho])], "bottom_left"))
figs.append(p12)

p13 = base(12, (0.087, 2.66), [1, 2])
s_v = band(p13, VPD, "#1f77b4")
p13.add_layout(Span(location=VPD_SET, dimension="width", line_color="red", line_width=4, line_dash="11 6"))
p13.add_layout(mk_legend([("VPD", [s_v])], "top_right"))
ax = p13.xaxis[0]
ax.axis_label = "hour"
ax.major_label_text_font_size = "20px"
ax.axis_label_text_font_size = "20px"
ax.major_tick_out = 8
ax.major_label_standoff = 4
ax.axis_label_standoff = 1
figs.append(p13)

layout = column(*figs, spacing=0)
open("out.html", "w").write(file_html(layout, INLINE))
